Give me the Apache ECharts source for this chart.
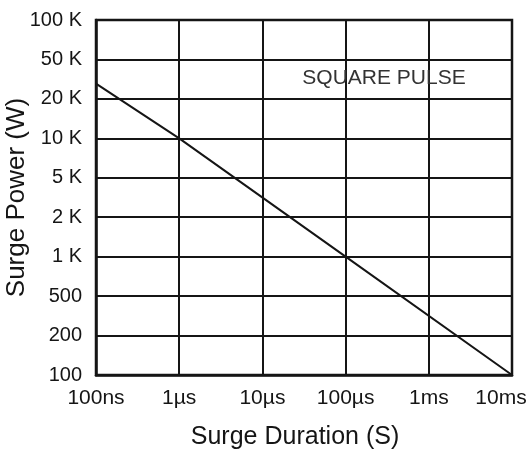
<!DOCTYPE html>
<html>
<head>
<meta charset="utf-8">
<style>
  html, body { margin: 0; padding: 0; background: #fff; }
  #chart { width: 531px; height: 461px; }
</style>
<script src="https://cdn.jsdelivr.net/npm/echarts@6/dist/echarts.min.js"></script>
</head>
<body>
<div id="chart"></div>
<script>
  // x: surge duration in seconds, one label per decade
  const durationLabels = ['100ns', '1\u00b5s', '10\u00b5s', '100\u00b5s', '1ms', '10ms'];
  // y: the original grid puts 1-2-5 steps at equal spacing
  const powerTicks = [100, 200, 500, 1000, 2000, 5000, 10000, 20000, 50000, 100000];
  const powerLabels = ['100', '200', '500', '1 K', '2 K', '5 K', '10 K', '20 K', '50 K', '100 K'];

  // square pulse curve
  const durations = [1e-7, 1e-6, 1e-4, 1e-2];
  const powers = [28500, 10000, 1000, 100];

  const font = '"Liberation Sans", Arial, Helvetica, sans-serif';
  const ink = '#151515';

  // place a wattage on the evenly spaced 1-2-5 grid
  function gridPos(w) {
    for (let i = 0; i < powerTicks.length - 1; i++) {
      const a = powerTicks[i], b = powerTicks[i + 1];
      if (w <= b || i === powerTicks.length - 2) {
        return i + Math.log(w / a) / Math.log(b / a);
      }
    }
    return 0;
  }

  const chart = echarts.init(document.getElementById('chart'), null, { renderer: 'canvas' });

  chart.setOption({
    animation: false,
    backgroundColor: '#fff',
    grid: { left: 96, right: 19, top: 20, bottom: 86, outerBoundsMode: 'none' },
    xAxis: {
      type: 'log',
      logBase: 10,
      min: 1e-7,
      max: 1e-2,
      name: 'Surge Duration (S)',
      nameLocation: 'middle',
      nameGap: 50,
      nameMoveOverlap: false,
      nameTextStyle: { fontFamily: font, fontSize: 25, color: ink, padding: [0, 18, 0, 0] },
      axisLine: { lineStyle: { color: ink, width: 2.5 } },
      axisTick: { show: false },
      splitLine: { show: true, lineStyle: { color: ink, width: 2 } },
      axisLabel: {
        margin: 13,
        fontFamily: font,
        fontSize: 21,
        color: ink,
        hideOverlap: false,
        formatter: function (v) {
          const i = Math.round(Math.log10(v)) + 7;
          const s = durationLabels[i] || '';
          // last label sits pulled in from the right edge
          return i === durationLabels.length - 1 ? '{last|' + s + '}' : s;
        },
        rich: {
          last: { fontFamily: font, fontSize: 21, color: ink, padding: [0, 22, 0, 0] }
        }
      }
    },
    yAxis: {
      type: 'value',
      min: 0,
      max: powerTicks.length - 1,
      interval: 1,
      name: 'Surge Power (W)',
      nameLocation: 'middle',
      nameGap: 66,
      nameMoveOverlap: false,
      nameTextStyle: { fontFamily: font, fontSize: 26, color: ink },
      axisLine: { show: true, lineStyle: { color: ink, width: 2.5 } },
      axisTick: { show: false },
      splitLine: { show: true, lineStyle: { color: ink, width: 2 } },
      axisLabel: {
        margin: 14,
        fontFamily: font,
        fontSize: 20,
        color: ink,
        formatter: function (v) { return powerLabels[Math.round(v)]; }
      }
    },
    graphic: [
      {
        type: 'rect',
        shape: { x: 96, y: 20, width: 416, height: 355 },
        style: { fill: 'none', stroke: ink, lineWidth: 2.5 },
        silent: true,
        z: 10
      },
      {
        type: 'text',
        x: 384,
        y: 78,
        style: {
          text: 'SQUARE PULSE',
          fontFamily: font,
          fontSize: 21,
          fill: '#333',
          align: 'center',
          verticalAlign: 'middle'
        },
        z: 10
      }
    ],
    series: [
      {
        type: 'line',
        data: durations.map(function (d, i) { return [d, gridPos(powers[i])]; }),
        showSymbol: false,
        lineStyle: { color: ink, width: 2 },
        z: 5
      }
    ]
  });
</script>
</body>
</html>
